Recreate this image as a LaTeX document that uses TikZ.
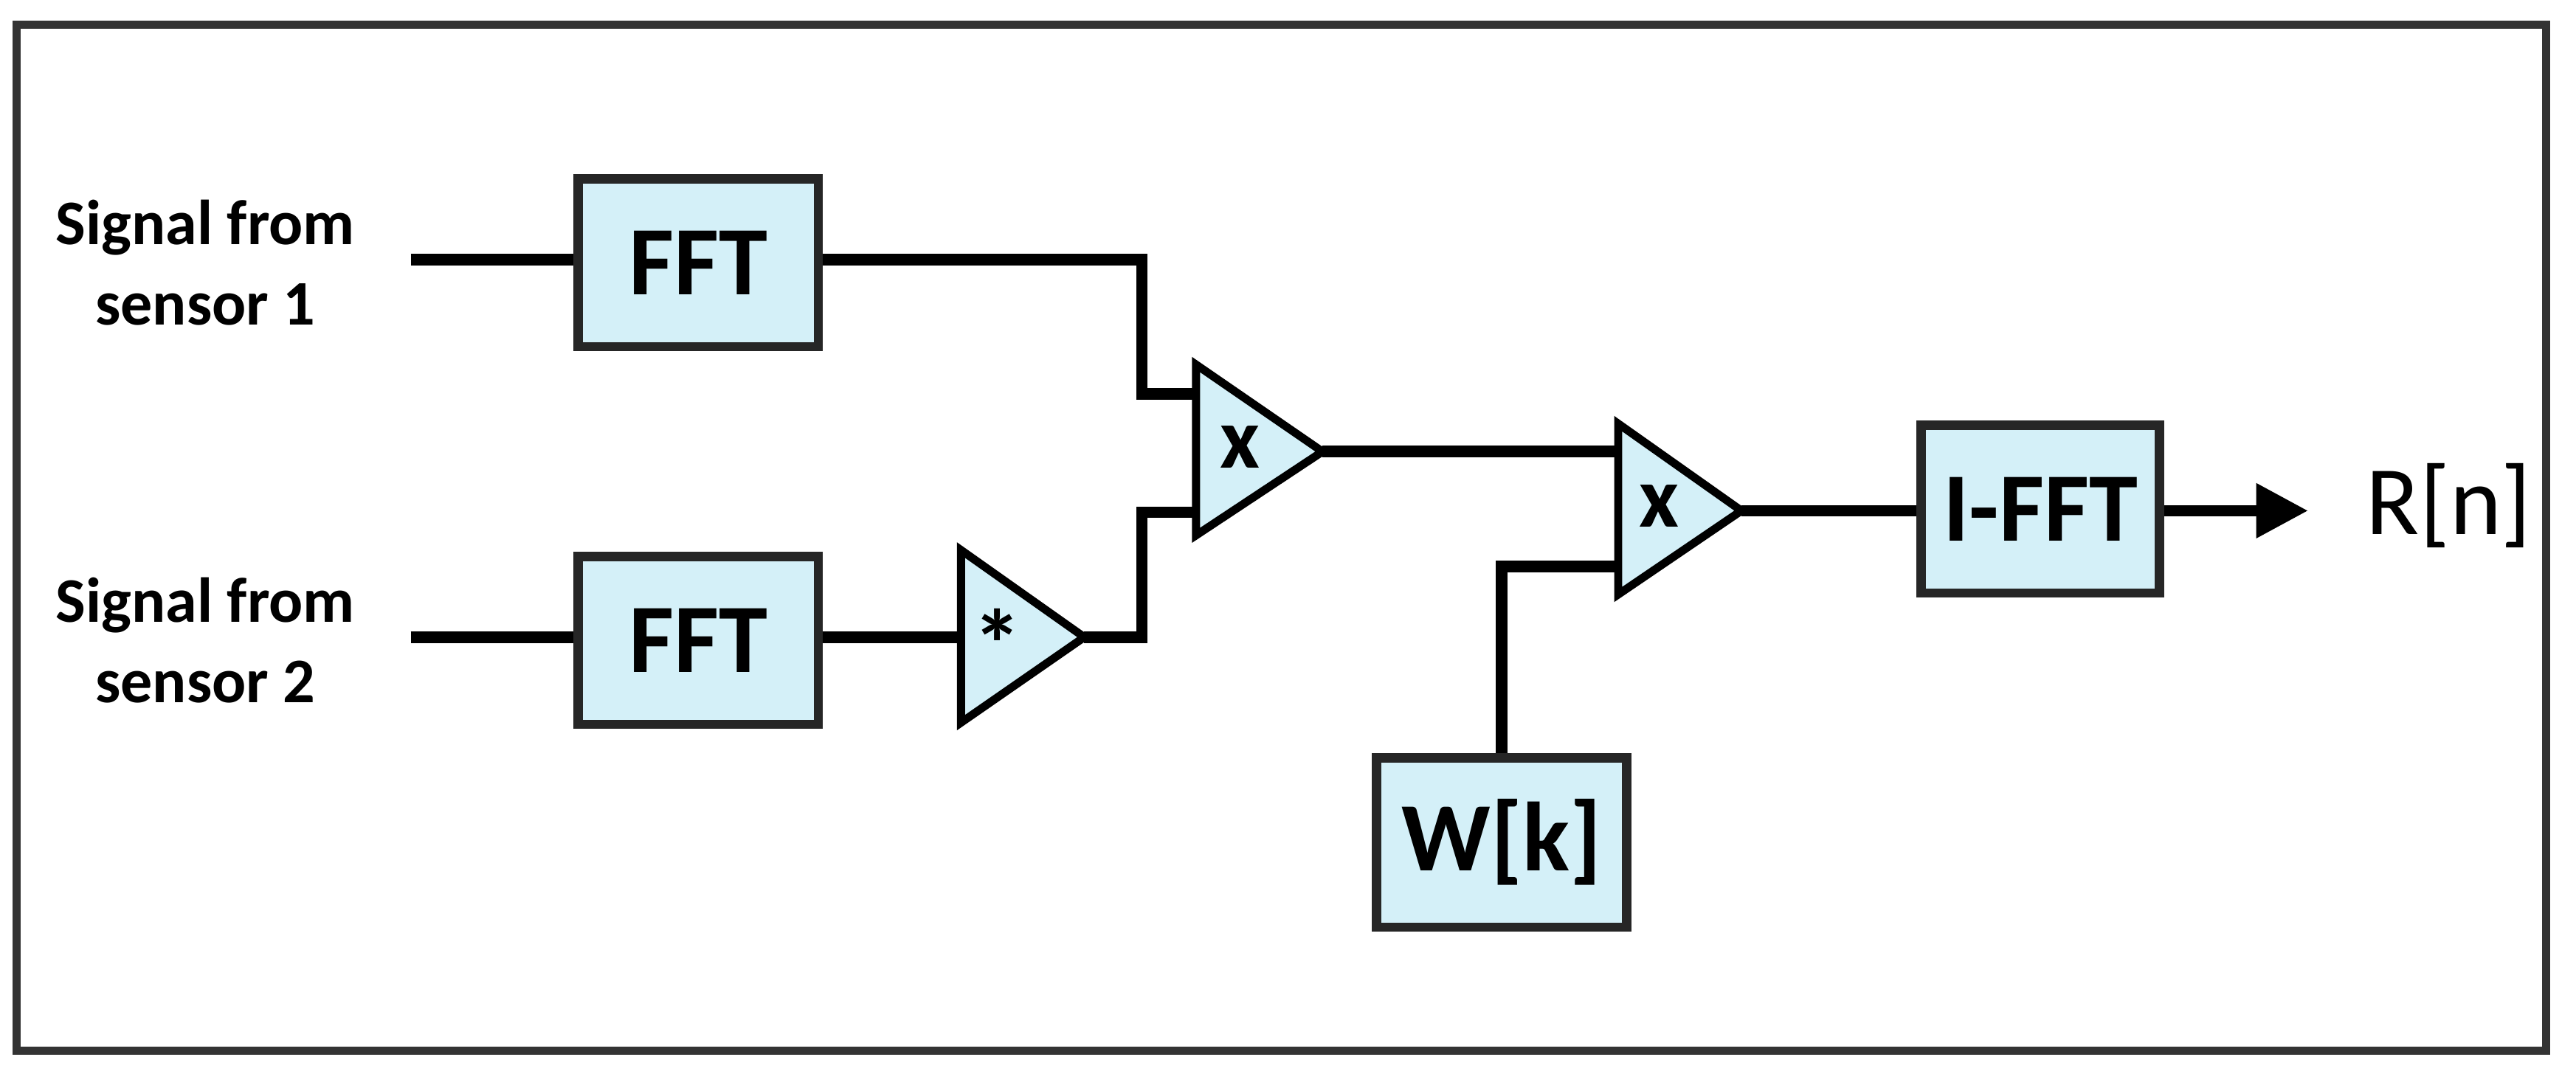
\documentclass[tikz,border=0pt]{standalone}
\usepackage{fontspec}
\setmainfont{Carlito}
\usetikzlibrary{arrows.meta}
\definecolor{boxfill}{HTML}{D4F0F8}
\begin{document}
\begin{tikzpicture}[x=0.01cm,y=-0.01cm,
    blk/.style={draw, line width=1.6pt, draw=black!85, fill=boxfill, inner sep=0pt, font=\bfseries\fontsize{17}{20}\selectfont},
    wire/.style={line width=2pt},
    tri/.style={draw, line width=1.4pt, fill=boxfill, line join=miter},
    lbl/.style={align=center, font=\bfseries\fontsize{11}{14}\selectfont}]
  \useasboundingbox (0,0) rectangle (1568,652);
  \draw[line width=1.4pt, draw=black!80] (10,15) rectangle (1550,640);

  % inputs
  \node[lbl] (s1) at (125,160) {Signal from\\sensor 1};
  \node[lbl] (s2) at (125,390) {Signal from\\sensor 2};
  \coordinate (in1) at (250,158);
  \coordinate (in2) at (250,388);

  % blocks
  \node[blk, minimum width=1.46cm, minimum height=1.02cm] (fft1) at (425,160) {FFT};
  \node[blk, minimum width=1.46cm, minimum height=1.02cm] (fft2) at (425,390) {FFT};
  \node[blk, minimum width=1.45cm, minimum height=1.02cm] (ifft) at (1242,310) {I-FFT};
  \node[blk, minimum width=1.52cm, minimum height=1.03cm] (w) at (914,513) {W[k]};

  % triangles
  \draw[tri] (585,335) -- (660,388) -- (585,440) -- cycle;
  \node[font=\bfseries\fontsize{17}{20}\selectfont] (conj) at (607,392) {*};
  \coordinate (conjin) at (585,388);
  \coordinate (conjout) at (660,388);

  \draw[tri] (728,222) -- (805,275) -- (728,326) -- cycle;
  \node[font=\bfseries\fontsize{15}{18}\selectfont] (m1) at (755,272) {x};
  \coordinate (m1a) at (728,240);
  \coordinate (m1b) at (728,312);
  \coordinate (m1out) at (805,275);

  \draw[tri] (985,258) -- (1060,311) -- (985,362) -- cycle;
  \node[font=\bfseries\fontsize{15}{18}\selectfont] (m2) at (1010,308) {x};
  \coordinate (m2a) at (985,275);
  \coordinate (m2b) at (985,345);
  \coordinate (m2out) at (1060,311);

  \node[font=\fontsize{17}{20}\selectfont, anchor=west] (r) at (1428,308) {R[n]};

  % connectors
  \draw[wire] (in1) -- (fft1.west |- in1);
  \draw[wire] (in2) -- (fft2.west |- in2);
  \draw[wire] (fft1.east |- in1) -| (695,240) -- (m1a);
  \draw[wire] (fft2.east |- in2) -- (conjin);
  \draw[wire] (conjout) -| (695,312) -- (m1b);
  \draw[wire] (m1out) -- (m2a);
  \draw[wire] (w.north) |- (m2b);
  \draw[wire] (m2out) -- (ifft.west |- m2out);
  \draw[wire, -{Triangle[length=9pt,width=9pt]}] (ifft.east |- m2out) -- (1405,311);
\end{tikzpicture}
\end{document}
